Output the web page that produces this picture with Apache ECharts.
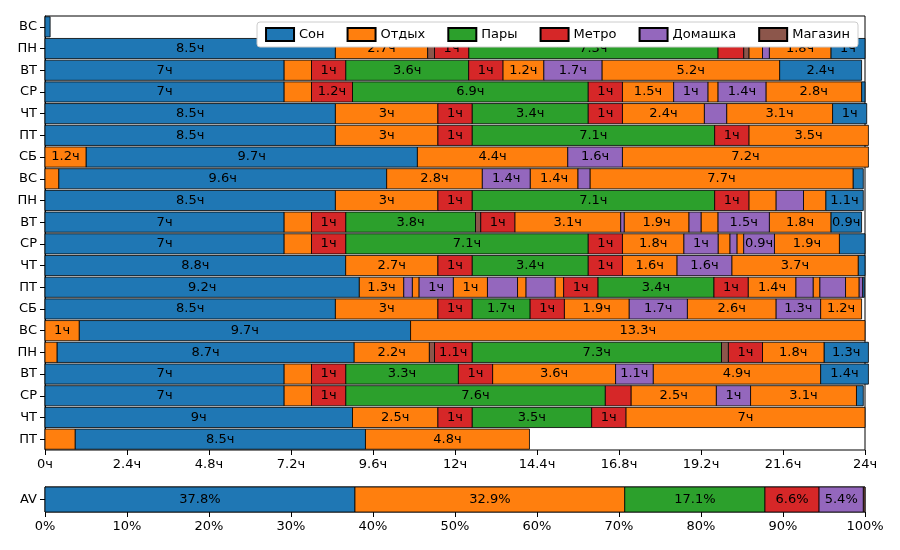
<!DOCTYPE html>
<html><head><meta charset="utf-8">
<script src="https://cdn.jsdelivr.net/npm/echarts@6/dist/echarts.min.js"></script>
<style>html,body{margin:0;padding:0;background:#fff}#c{width:900px;height:550px}</style>
</head><body><div id="c"></div>
<script>
const activities = ['Сон','Отдых','Пары','Метро','Домашка','Магазин'];
const colors = ['#1f77b4','#ff7f0e','#2ca02c','#d62728','#9467bd','#8c564b'];
const dayLabels = ['ВС','ПН','ВТ','СР','ЧТ','ПТ','СБ','ВС','ПН','ВТ','СР','ЧТ','ПТ','СБ','ВС','ПН','ВТ','СР','ЧТ','ПТ'];
// rows: [activityIndex, hours]
const row01 = [[0,0.15]];
const row02 = [[0,8.5],[1,2.7],[5,0.2],[3,1],[2,7.3],[3,0.75],[5,0.15],[1,0.4],[4,0.2],[1,1.8],[0,1]];
const row03 = [[0,7],[1,0.8],[3,1],[2,3.6],[3,1],[1,1.2],[4,1.7],[1,5.2],[0,2.4]];
const row04 = [[0,7],[1,0.8],[3,1.2],[2,6.9],[3,1],[1,1.5],[4,1],[1,0.3],[4,1.4],[1,2.8],[0,0.1]];
const row05 = [[0,8.5],[1,3],[3,1],[2,3.4],[3,1],[1,2.4],[4,0.65],[1,3.1],[0,1]];
const row06 = [[0,8.5],[1,3],[3,1],[2,7.1],[3,1],[1,3.5]];
const row07 = [[1,1.2],[0,9.7],[1,4.4],[4,1.6],[1,7.2]];
const row08 = [[1,0.4],[0,9.6],[1,2.8],[4,1.4],[1,1.4],[4,0.35],[1,7.7],[0,0.3]];
const row09 = [[0,8.5],[1,3],[3,1],[2,7.1],[3,1],[1,0.8],[4,0.8],[1,0.65],[0,1.1]];
const row10 = [[0,7],[1,0.8],[3,1],[2,3.8],[5,0.15],[3,1],[1,3.1],[4,0.1],[1,1.9],[4,0.35],[1,0.5],[4,1.5],[1,1.8],[0,0.9]];
const row11 = [[0,7],[1,0.8],[3,1],[2,7.1],[3,1],[1,1.8],[4,1],[1,0.35],[4,0.2],[1,0.2],[4,0.9],[1,1.9],[0,0.75]];
const row12 = [[0,8.8],[1,2.7],[3,1],[2,3.4],[3,1],[1,1.6],[4,1.6],[1,3.7],[0,0.2]];
const row13 = [[0,9.2],[1,1.3],[4,0.25],[1,0.2],[4,1],[1,1],[4,0.88],[1,0.25],[4,0.85],[1,0.25],[3,1],[2,3.4],[3,1],[1,1.4],[4,0.5],[1,0.2],[4,0.75],[1,0.4],[4,0.1],[0,0.05]];
const row14 = [[0,8.5],[1,3],[3,1],[2,1.7],[3,1],[1,1.9],[4,1.7],[1,2.6],[4,1.3],[1,1.2]];
const row15 = [[1,1],[0,9.7],[1,13.3]];
const row16 = [[1,0.35],[0,8.7],[1,2.2],[5,0.15],[3,1.1],[2,7.3],[5,0.2],[3,1],[1,1.8],[0,1.3]];
const row17 = [[0,7],[1,0.8],[3,1],[2,3.3],[3,1],[1,3.6],[4,1.1],[1,4.9],[0,1.4]];
const row18 = [[0,7],[1,0.8],[3,1],[2,7.6],[3,0.75],[1,2.5],[4,1],[1,3.1],[0,0.2]];
const row19 = [[0,9],[1,2.5],[3,1],[2,3.5],[3,1],[1,7]];
const row20 = [[1,0.88],[0,8.5],[1,4.8]];
const rows = [row01,row02,row03,row04,row05,row06,row07,row08,row09,row10,row11,row12,row13,row14,row15,row16,row17,row18,row19,row20];
const avPercents = [37.8,32.9,17.1,6.6,5.4,0.2];
const xTicks = {min:0,max:24,interval:2.4};

const FONT = '13px "DejaVu Sans"';
function fmtH(v){return (+v.toFixed(1))+'ч';}
// build per-activity items
const mainData = activities.map(()=>[]);
rows.forEach((r,ri)=>{let s=0;r.forEach(([a,d])=>{mainData[a].push([s,ri,s+d,d>=0.9?fmtH(d):'']);s+=d;});});
const avData = activities.map(()=>[]);
{let s=0;avPercents.forEach((p,a)=>{avData[a].push([s,0,s+p,p>=1?p.toFixed(1)+'%':'']);s+=p;});}

function render(frac, color){
  return function(params, api){
    const a=api.coord([api.value(0),api.value(1)]);
    const b=api.coord([api.value(2),api.value(1)]);
    const h=api.size([0,1])[1]*frac;
    return {type:'rect',shape:{x:a[0],y:a[1]-h/2,width:b[0]-a[0],height:h},
      style:{fill:color,stroke:'#000',lineWidth:0.8},
      textContent:{style:{text:api.value(3),fill:'#000',font:FONT}},
      textConfig:{position:'inside'}};
  };
}
const series=[];
activities.forEach((name,a)=>{
  series.push({type:'custom',name,xAxisIndex:0,yAxisIndex:0,renderItem:render(0.93,colors[a]),
    encode:{x:[0,2],y:1},data:mainData[a],itemStyle:{color:colors[a],borderColor:'#000',borderWidth:1}});
  series.push({type:'custom',name,xAxisIndex:1,yAxisIndex:1,renderItem:render(1,colors[a]),
    encode:{x:[0,2],y:1},data:avData[a],itemStyle:{color:colors[a],borderColor:'#000',borderWidth:1}});
});
const axLine={lineStyle:{color:'#000'}};
const chart=echarts.init(document.getElementById('c'));
chart.setOption({
  animation:false,
  textStyle:{fontFamily:'DejaVu Sans'},
  legend:{data:activities,right:42,top:22,itemWidth:28,itemHeight:13,itemGap:22,
    backgroundColor:'#fff',borderColor:'#ccc',borderWidth:1,borderRadius:3,padding:[5,8],
    textStyle:{fontSize:13,color:'#000'},icon:'rect'},
  grid:[{left:45,right:35,top:16,height:434,show:true,borderColor:'#000',borderWidth:1,backgroundColor:'transparent'},
        {left:45,right:35,top:487,height:25,show:true,borderColor:'#000',borderWidth:1,backgroundColor:'transparent'}],
  xAxis:[{type:'value',gridIndex:0,min:xTicks.min,max:xTicks.max,interval:xTicks.interval,splitLine:{show:false},
      axisLine:axLine,axisTick:{show:true,lineStyle:{color:'#000'}},axisLabel:{color:'#000',fontSize:13,formatter:v=>fmtH(v)}},
    {type:'value',gridIndex:1,min:0,max:100,interval:10,splitLine:{show:false},
      axisLine:axLine,axisTick:{show:true,lineStyle:{color:'#000'}},axisLabel:{color:'#000',fontSize:13,formatter:'{value}%'}}],
  yAxis:[{type:'category',gridIndex:0,inverse:true,data:rows.map((_,i)=>String(i)),
      axisLine:axLine,axisTick:{show:true,alignWithLabel:true,lineStyle:{color:'#000'}},
      axisLabel:{color:'#000',fontSize:13,formatter:(v,i)=>dayLabels[+v]}},
    {type:'category',gridIndex:1,data:['AV'],axisLine:axLine,axisTick:{show:true,alignWithLabel:true,lineStyle:{color:'#000'}},
      axisLabel:{color:'#000',fontSize:13}}],
  series
});
</script></body></html>
